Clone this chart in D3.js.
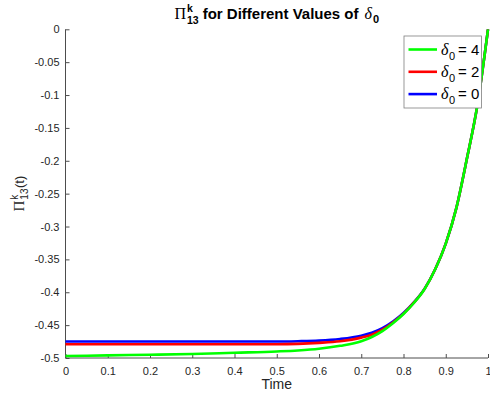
<!DOCTYPE html>
<html>
<head>
<meta charset="utf-8">
<script src="https://cdn.jsdelivr.net/npm/d3@7"></script>
<style>
  body { margin: 0; background: #fff; }
  svg text { font-family: "Liberation Sans", Helvetica, Arial, sans-serif; }
</style>
</head>
<body>
<div id="chart"></div>
<script>
// values
const time   = [0, 0.1, 0.2, 0.3, 0.4, 0.5, 0.55, 0.6, 0.65, 0.7, 0.725, 0.75, 0.775, 0.8, 0.825, 0.85, 0.875, 0.9, 0.925, 0.95, 0.975, 1];
const delta4 = [-0.497, -0.496, -0.495, -0.494, -0.492, -0.490, -0.4885, -0.486, -0.4815, -0.4745, -0.468, -0.459, -0.447, -0.433, -0.416, -0.395, -0.365, -0.326, -0.272, -0.197, -0.115, 0];
const delta2 = [-0.479, -0.479, -0.479, -0.479, -0.479, -0.479, -0.4785, -0.477, -0.4745, -0.469, -0.4645, -0.457, -0.446, -0.4325, -0.4155, -0.3948, -0.365, -0.326, -0.272, -0.197, -0.115, 0];
const delta0 = [-0.475, -0.475, -0.475, -0.475, -0.475, -0.475, -0.4745, -0.4735, -0.471, -0.466, -0.4615, -0.4545, -0.4445, -0.4315, -0.415, -0.3945, -0.365, -0.326, -0.272, -0.197, -0.115, 0];
const xTicks = [0, 0.1, 0.2, 0.3, 0.4, 0.5, 0.6, 0.7, 0.8, 0.9, 1];
const yTicks = [0, -0.05, -0.1, -0.15, -0.2, -0.25, -0.3, -0.35, -0.4, -0.45, -0.5];

//Series, drawn so green ends up on top
const series = [
  { name: "0", values: delta0, color: "#0000ff" },
  { name: "2", values: delta2, color: "#ff0000" },
  { name: "4", values: delta4, color: "#00ff00" }
];
const legendOrder = ["4", "2", "0"];

let width = 490, height = 396;
let margin = { top: 29.3, right: 2, bottom: 38, left: 65.5 };

let svg = d3.select("#chart").append("svg")
  .attr("width", width).attr("height", height);

let xScale = d3.scaleLinear().domain([0, 1]).range([margin.left, width - margin.right]);
let yScale = d3.scaleLinear().domain([-0.5, 0]).range([height - margin.bottom, margin.top]);

const axisColor = "#4d4d4d", textColor = "#262626";

// x axis, ticks pointing inward
let xAxis = svg.append("g")
  .attr("transform", "translate(0," + yScale(-0.5) + ")")
  .call(d3.axisTop(xScale).tickValues(xTicks).tickSize(4).tickFormat(d => String(d)));
xAxis.select(".domain").remove();
xAxis.selectAll(".tick line").attr("stroke", axisColor);
xAxis.selectAll(".tick text")
  .attr("y", 17).attr("dy", 0)
  .attr("fill", textColor).style("font-size", "11px");
svg.append("line")
  .attr("x1", xScale(0)).attr("x2", xScale(1))
  .attr("y1", yScale(-0.5)).attr("y2", yScale(-0.5))
  .attr("stroke", axisColor);

// y axis
let yAxis = svg.append("g")
  .attr("transform", "translate(" + xScale(0) + ",0)")
  .call(d3.axisRight(yScale).tickValues(yTicks).tickSize(4).tickFormat(d => String(d)));
yAxis.select(".domain").remove();
yAxis.selectAll(".tick line").attr("stroke", axisColor);
yAxis.selectAll(".tick text")
  .attr("x", -6).attr("text-anchor", "end")
  .attr("fill", textColor).style("font-size", "11px");
svg.append("line")
  .attr("x1", xScale(0)).attr("x2", xScale(0))
  .attr("y1", yScale(0)).attr("y2", yScale(-0.5))
  .attr("stroke", axisColor);

// lines
let line = d3.line()
  .x((d, i) => xScale(time[i]))
  .y(d => yScale(d))
  .curve(d3.curveMonotoneX);

svg.append("g").selectAll("path")
  .data(series).enter().append("path")
  .attr("d", d => line(d.values))
  .attr("fill", "none")
  .attr("stroke", d => d.color)
  .attr("stroke-width", 2.6);

// helper for rich text (pieces laid out one after another)
function rich(g, pieces, x, y, anchor) {
  let grp = g.append("g");
  let cx = 0;
  pieces.forEach(p => {
    let w = 0;
    (p.stack || [p]).forEach(q => {
      let t = grp.append("text")
        .attr("x", cx).attr("y", q.dy || 0)
        .style("font-size", q.size + "px")
        .style("font-weight", q.weight || "normal")
        .style("font-style", q.style || "normal")
        .attr("fill", q.fill || textColor)
        .text(q.t);
      if (q.family) t.style("font-family", q.family);
      w = Math.max(w, t.node().getComputedTextLength());
    });
    cx += w + (p.gap || 0);
  });
  let shift = anchor === "middle" ? -cx / 2 : anchor === "end" ? -cx : 0;
  grp.attr("transform", "translate(" + (x + shift) + "," + y + ")");
  return grp;
}

// title
rich(svg, [
  { t: "\u03A0", size: 16, family: "'Liberation Serif', serif", fill: "#000", gap: 1 },
  { stack: [
      { t: "k", size: 10.5, weight: "bold", dy: -7, fill: "#000" },
      { t: "13", size: 10.5, weight: "bold", dy: 5, fill: "#000" }
    ], gap: 4 },
  { t: "for Different Values of", size: 15, weight: "bold", fill: "#000", gap: 6 },
  { t: "\u03B4", size: 16, style: "italic", family: "'Liberation Serif', serif", fill: "#000", gap: 1 },
  { t: "0", size: 11, weight: "bold", dy: 4, fill: "#000" }
], (xScale(0) + xScale(1)) / 2, 19, "middle");

// x label
svg.append("text")
  .attr("x", (xScale(0) + xScale(1)) / 2).attr("y", 389)
  .attr("text-anchor", "middle").attr("fill", textColor)
  .style("font-size", "14px").text("Time");

// y label
let yl = svg.append("g").attr("transform", "translate(24," + ((yScale(0) + yScale(-0.5)) / 2) + ") rotate(-90)");
rich(yl, [
  { t: "\u03A0", size: 15, family: "'Liberation Serif', serif", gap: 1 },
  { stack: [
      { t: "k", size: 10, dy: -6 },
      { t: "13", size: 10, dy: 4 }
    ], gap: 0.5 },
  { t: "(t)", size: 13 }
], 0, 0, "middle");

// legend
let lg = svg.append("g").attr("transform", "translate(404,36)");
lg.append("rect")
  .attr("width", 77.5).attr("height", 72)
  .attr("fill", "#fff").attr("stroke", "#7f7f7f").attr("stroke-width", 0.8);
legendOrder.forEach((k, i) => {
  let s = series.find(d => d.name === k);
  let ry = 13.5 + i * 22.3;
  lg.append("line")
    .attr("x1", 4.5).attr("x2", 33).attr("y1", ry).attr("y2", ry)
    .attr("stroke", s.color).attr("stroke-width", 2.6);
  rich(lg, [
    { t: "\u03B4", size: 16, style: "italic", family: "'Liberation Serif', serif", fill: "#000", gap: 0.5 },
    { t: "0", size: 11, dy: 5, fill: "#000", gap: 3 },
    { t: "= " + k, size: 15, fill: "#000" }
  ], 37, ry + 5, "start");
});
</script>
</body>
</html>
